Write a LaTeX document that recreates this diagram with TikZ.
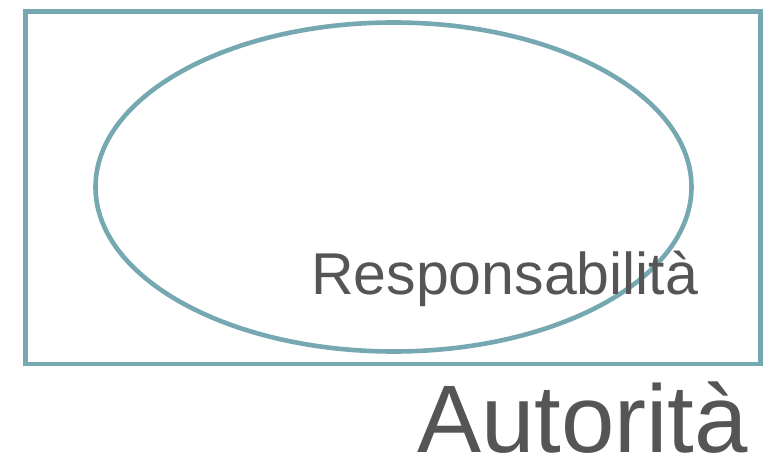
\documentclass[tikz,border=0pt]{standalone}
\usepackage{fontspec}
\setmainfont{Liberation Sans}
\usetikzlibrary{shapes.geometric}
\definecolor{frameteal}{HTML}{75A8B1}
\definecolor{textgray}{HTML}{555555}
\tikzset{
    my-frame/.style={
        draw=frameteal, line width=4.6pt
    },
    my-ellipse/.style={
        ellipse, draw=frameteal, line width=4.6pt, inner sep=0pt
    },
    my-label/.style={
        text=textgray, anchor=base west, inner sep=0pt, text depth=0pt
    },
}
\begin{document}
\begin{tikzpicture}[x=1pt, y=1pt]

        % CANVAS
        \useasboundingbox (0, 0) rectangle (771, 461);

        % OUTER FRAME
        \coordinate[] (FRAMENW) at (25.5, 449.5);
        \coordinate[] (FRAMESE) at (760.5, 97);
        \draw[my-frame] (FRAMENW) rectangle (FRAMESE);

        % INNER ELLIPSE
        \node[my-ellipse, minimum width=596pt, minimum height=329pt] (RESP) at (393.5, 274) {};

        % LABELS
        \node[my-label, font=\fontsize{59}{62}\selectfont] (RESPTEXT) at (311, 166) {Responsabilità};
        \node[my-label, font=\fontsize{96}{100}\selectfont] (AUTTEXT)  at (417, 9)   {Autorità};

    \end{tikzpicture}
\end{document}
